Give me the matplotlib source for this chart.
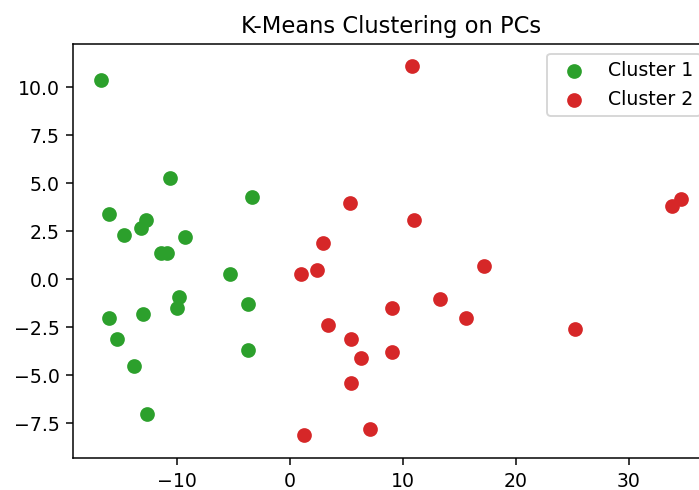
import matplotlib
matplotlib.use("Agg")
import matplotlib.pyplot as plt
import numpy as np

# PC1 / PC2 coordinates
cluster1_x = [-16.7, -10.6, -3.4, -16.0, -12.8, -13.2, -14.7, -9.3, -11.4, -10.9,
              -5.3, -9.8, -10.0, -3.7, -16.0, -13.0, -15.3, -3.7, -13.8, -12.7]
cluster1_y = [10.4, 5.3, 4.3, 3.4, 3.1, 2.7, 2.3, 2.2, 1.4, 1.4,
              0.3, -0.9, -1.5, -1.3, -2.0, -1.8, -3.1, -3.7, -4.5, -7.0]

cluster2_x = [10.8, 5.3, 11.0, 2.9, 1.0, 2.4, 17.2, 13.3, 15.6, 9.0,
              3.4, 5.4, 6.3, 9.0, 5.4, 7.1, 1.2, 34.6, 33.8, 25.2]
cluster2_y = [11.1, 4.0, 3.1, 1.9, 0.3, 0.5, 0.7, -1.0, -2.0, -1.5,
              -2.4, -3.1, -4.1, -3.8, -5.4, -7.8, -8.1, 4.2, 3.8, -2.6]

CLUSTERS = [
    ("Cluster 1", cluster1_x, cluster1_y, "tab:green"),
    ("Cluster 2", cluster2_x, cluster2_y, "tab:red"),
]

DPI = 136
fig = plt.figure(figsize=(699 / DPI, 490 / DPI), dpi=DPI)
# axes runs a little past the right edge, like the cropped reference
ax = fig.add_axes([0.104, 0.0647, 0.912, 0.845])

for label, xs, ys, color in CLUSTERS:
    ax.scatter(xs, ys, c=color, s=46, label=label)

ax.set_xlim(-19.25, 37.2)
ax.set_ylim(-9.32, 12.25)
ax.set_xticks([-10, 0, 10, 20, 30])
ax.set_yticks(np.arange(-7.5, 10.01, 2.5))
ax.set_title("K-Means Clustering on PCs")
ax.legend(loc="upper right")

fig.savefig("out.png", dpi=DPI)
